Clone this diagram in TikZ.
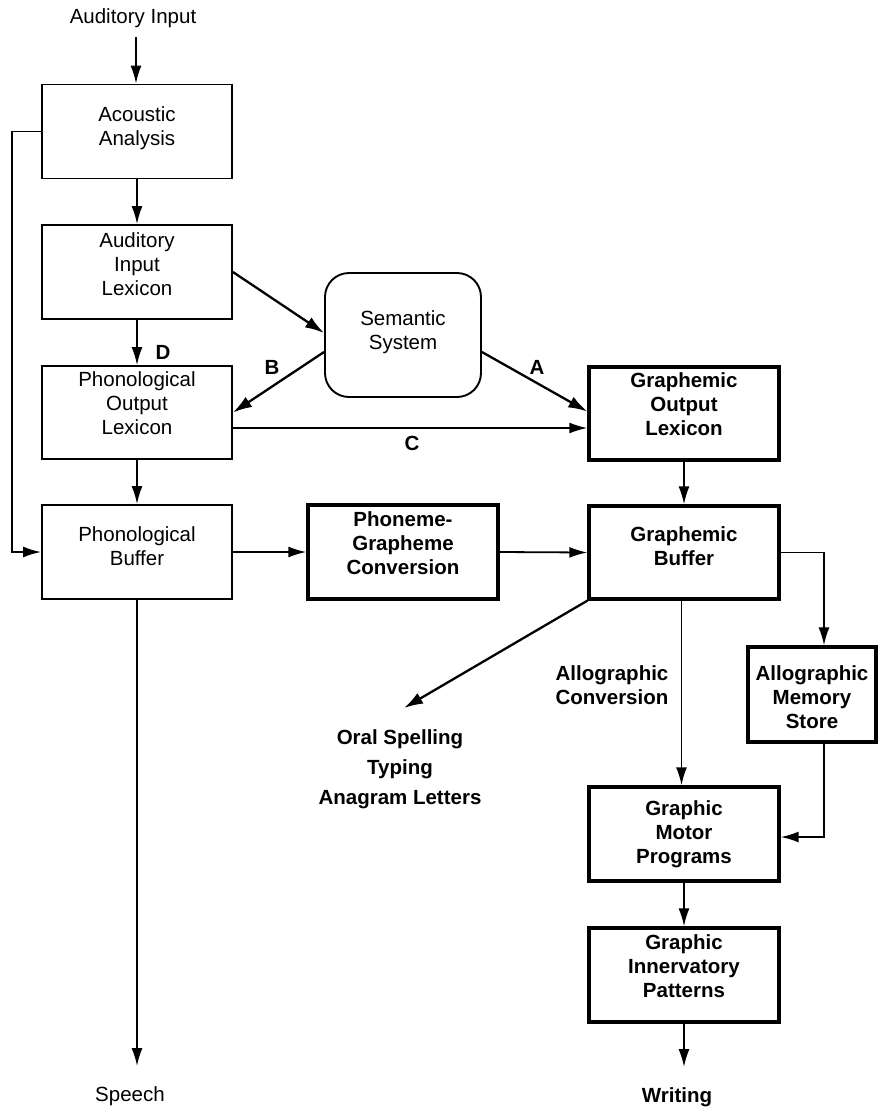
\documentclass[tikz,border=0pt]{standalone}
\usepackage{fontspec}
\setmainfont{Liberation Sans}
\usetikzlibrary{arrows.meta,calc}
\begin{document}
\begin{tikzpicture}[x=1pt,y=-1pt,
  every node/.style={font=\fontsize{20.5}{24}\selectfont, align=center, inner sep=0pt},
  thinbox/.style={draw, line width=1.9pt, minimum width=190pt, minimum height=94pt},
  boldbox/.style={draw, line width=3.4pt, minimum width=190pt, minimum height=94pt, font=\fontsize{20.5}{24}\selectfont\bfseries},
  semb/.style={draw, line width=1.9pt, rounded corners=24pt, minimum width=156pt, minimum height=124pt},
  lbl/.style={font=\fontsize{20.5}{24}\selectfont\bfseries},
  tup/.style={execute at end node={\rule[-#1]{0pt}{#1}}},
  arr/.style={line width=1.8pt, -{Latex[length=18pt,width=11pt]}},
  darr/.style={line width=2.3pt, -{Latex[length=19pt,width=12pt]}}
]
\useasboundingbox (0,0) rectangle (878,1109);

% text ends
\node (in) at (133,18) {Auditory Input};
\node (speech) at (130,1096) {Speech};
\node[lbl] (writing) at (677,1097) {Writing};

% boxes
\node[thinbox, tup=10.5pt] (aa) at (137,131.5) {Acoustic\\Analysis};
\node[thinbox, tup=16pt] (ail) at (137,272) {Auditory\\Input\\Lexicon};
\node[thinbox, minimum height=93pt, tup=19pt] (pol) at (137,412.5) {Phonological\\Output\\Lexicon};
\node[thinbox, tup=12pt] (pb) at (137,552) {Phonological\\Buffer};
\node[semb, tup=10.5pt] (sem) at (403,335) {Semantic\\System};
\node[boldbox, minimum height=93pt, tup=19.5pt] (gol) at (684,413.5) {Graphemic\\Output\\Lexicon};
\node[boldbox, minimum height=93pt, tup=12.5pt] (gb) at (684,552.5) {Graphemic\\Buffer};
\node[boldbox, tup=17.5pt] (pg) at (403,552) {Phoneme-\\Grapheme\\Conversion};
\node[boldbox, minimum width=128pt, minimum height=95pt] (ams) at (812,694.5) {\rule{0pt}{10pt}\\[-14pt]Allographic\\Memory\\Store};
\node[boldbox] (gmp) at (684,834) {Graphic\\Motor\\Programs};
\node[boldbox, tup=18pt] (gip) at (684,975) {Graphic\\Innervatory\\Patterns};

% free labels
\node[lbl] (lA) at (537,367) {A};
\node[lbl] (lB) at (272,367) {B};
\node[lbl] (lC) at (412,443) {C};
\node[lbl] (lD) at (163,352) {D};
\node[lbl] (alc) at (612,685) {Allographic\\Conversion};
\node[lbl, font=\fontsize{20.5}{30}\selectfont\bfseries] (oral) at (400,769) {Oral Spelling\\Typing\\Anagram Letters};

% coordinates
\coordinate (inb) at (136,37);
\coordinate (speechend) at (137,1066);
\coordinate (writeend) at (684,1067);
\coordinate (oralend) at (404,708);
\coordinate (fb) at (12,131.5);

% connectors
\draw[arr] (inb) -- (inb |- aa.north);
\draw[arr] (aa.south) -- (ail.north);
\draw[arr] (ail.south) -- (pol.north);
\draw[arr] (pol.south) -- (pb.north);
\draw[arr] (pb.south) -- (speechend);
\draw[arr] (aa.west) -- (fb) |- (pb.west);

\draw[darr] (ail.east) -- ($(sem.west)+(0,-2)$);
\draw[darr] ($(sem.west)+(0,17)$) -- (pol.east);
\draw[darr] ($(sem.east)+(0,17)$) -- ($(gol.west)+(0,-2)$);
\coordinate (c1) at ($(pol.east)+(0,15.5)$);
\draw[arr] (c1) -- (c1 -| gol.west);

\draw[arr] (gol.south) -- (gb.north);
\draw[arr] (pb.east) -- (pg.west);
\draw[arr] (pg.east) -- (gb.west);
\draw[arr] (gb.east) -| ($(ams.north)+(12,0)$);
\draw[darr] (gb.south west) -- (oralend);
\draw[arr] ($(gb.south)+(-2.5,0)$) -- ($(gmp.north)+(-2.5,0)$);
\draw[arr] ($(ams.south)+(12,0)$) |- ($(gmp.east)+(0,3)$);
\draw[arr] (gmp.south) -- (gip.north);
\draw[arr] (gip.south) -- (writeend);
\end{tikzpicture}
\end{document}
